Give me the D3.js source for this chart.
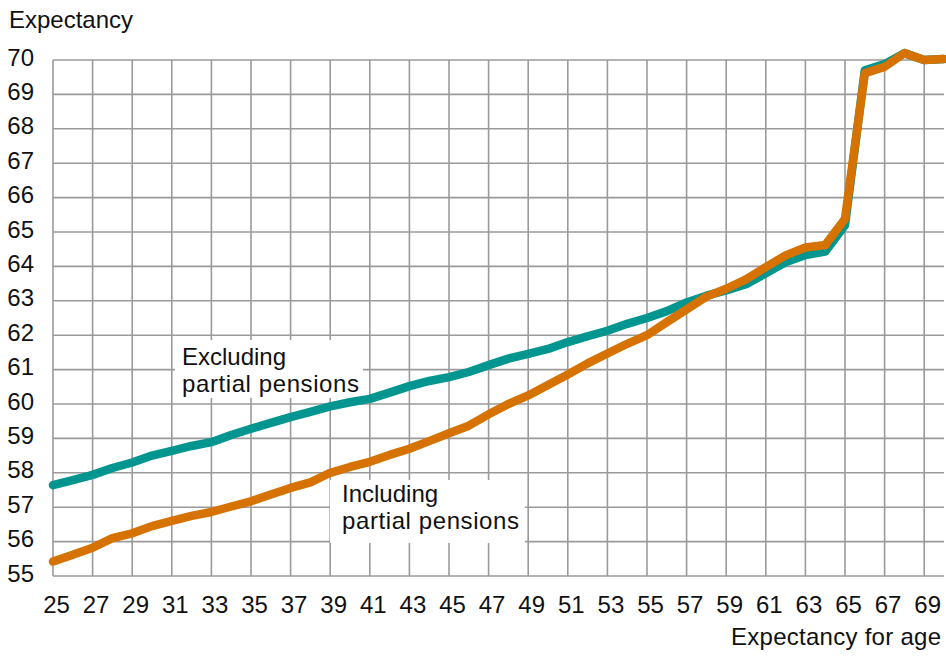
<!DOCTYPE html>
<html>
<head>
<meta charset="utf-8">
<script src="https://cdn.jsdelivr.net/npm/d3@7"></script>
<style>
body { margin: 0; background: #fff; }
svg text { font-family: "Liberation Sans", Arial, sans-serif; fill: #111; }
</style>
</head>
<body>
<svg id="chart" width="946" height="659"></svg>
<script>
const ages = d3.range(25, 71);
const excluding = [57.64, 57.79, 57.94, 58.14, 58.30, 58.50, 58.64, 58.78, 58.89, 59.10,
  59.28, 59.45, 59.62, 59.77, 59.93, 60.05, 60.15, 60.33, 60.52, 60.67,
  60.78, 60.93, 61.13, 61.32, 61.46, 61.60, 61.80, 61.97, 62.13, 62.33,
  62.50, 62.70, 62.95, 63.15, 63.30, 63.48, 63.80, 64.12, 64.33, 64.43,
  65.20, 69.70, 69.88, 70.20, 70.00, 70.03];
const including = [55.42, 55.62, 55.82, 56.10, 56.24, 56.45, 56.60, 56.75, 56.86, 57.02,
  57.17, 57.37, 57.56, 57.72, 58.00, 58.17, 58.32, 58.52, 58.70, 58.92,
  59.15, 59.37, 59.70, 60.00, 60.25, 60.55, 60.86, 61.18, 61.47, 61.75,
  62.00, 62.38, 62.75, 63.12, 63.35, 63.62, 63.98, 64.32, 64.55, 64.62,
  65.38, 69.62, 69.80, 70.20, 70.00, 70.03];
const xTicks = d3.range(25, 70, 2);
const yTicks = d3.range(55, 71, 1);
const seriesLabels = [["Excluding", "partial pensions"], ["Including", "partial pensions"]];
const colors = ["#00958f", "#d57200"];

const svg = d3.select("#chart");
const x = d3.scaleLinear().domain([25, 70]).range([53, 944]);
const y = d3.scaleLinear().domain([55, 70]).range([576, 60]);

// grid
const grid = svg.append("g");
grid.selectAll("line.h").data(yTicks).enter().append("line")
  .attr("x1", x(25)).attr("x2", x(70))
  .attr("y1", d => y(d)).attr("y2", d => y(d))
  .attr("stroke", "#9a9a9a").attr("stroke-width", 1.6);
grid.selectAll("line.v").data(xTicks).enter().append("line")
  .attr("x1", d => x(d)).attr("x2", d => x(d))
  .attr("y1", y(55)).attr("y2", y(70))
  .attr("stroke", "#9a9a9a").attr("stroke-width", 1.6);

// y labels
svg.append("g").selectAll("text").data(yTicks).enter().append("text")
  .attr("x", 34).attr("y", d => y(d) - 3)
  .attr("text-anchor", "end").attr("dominant-baseline", "central")
  .attr("font-size", 24).text(d => d);

// x labels
svg.append("g").selectAll("text").data(xTicks).enter().append("text")
  .attr("x", d => x(d) + 3.5).attr("y", 604)
  .attr("text-anchor", "middle").attr("dominant-baseline", "central")
  .attr("font-size", 24).text(d => d);

svg.append("text").attr("x", 9).attr("y", 28).attr("font-size", 24).text("Expectancy");
svg.append("text").attr("x", 941).attr("y", 645).attr("text-anchor", "end")
  .attr("font-size", 24).attr("textLength", 210).text("Expectancy for age");

// label boxes
function labelBox(x0, y0, w, h, lines, tx, ty) {
  svg.append("rect").attr("x", x0).attr("y", y0).attr("width", w).attr("height", h).attr("fill", "#fff");
  lines.forEach((l, i) => {
    const t = svg.append("text").attr("x", tx).attr("y", ty + i * 27)
      .attr("font-size", 24).text(l);
    if (i === 1) t.attr("textLength", 177);
  });
}
labelBox(175, 340, 188, 58, seriesLabels[0], 182, 365);
labelBox(330, 480, 195, 63, seriesLabels[1], 342, 502);

// lines
const line = d3.line().x((d, i) => x(ages[i])).y(d => y(d));
[excluding, including].forEach((s, k) => {
  svg.append("path").datum(s).attr("d", line)
    .attr("fill", "none").attr("stroke", colors[k]).attr("stroke-width", 8.5)
    .attr("stroke-linejoin", "round").attr("stroke-linecap", "round");
});
</script>
</body>
</html>
